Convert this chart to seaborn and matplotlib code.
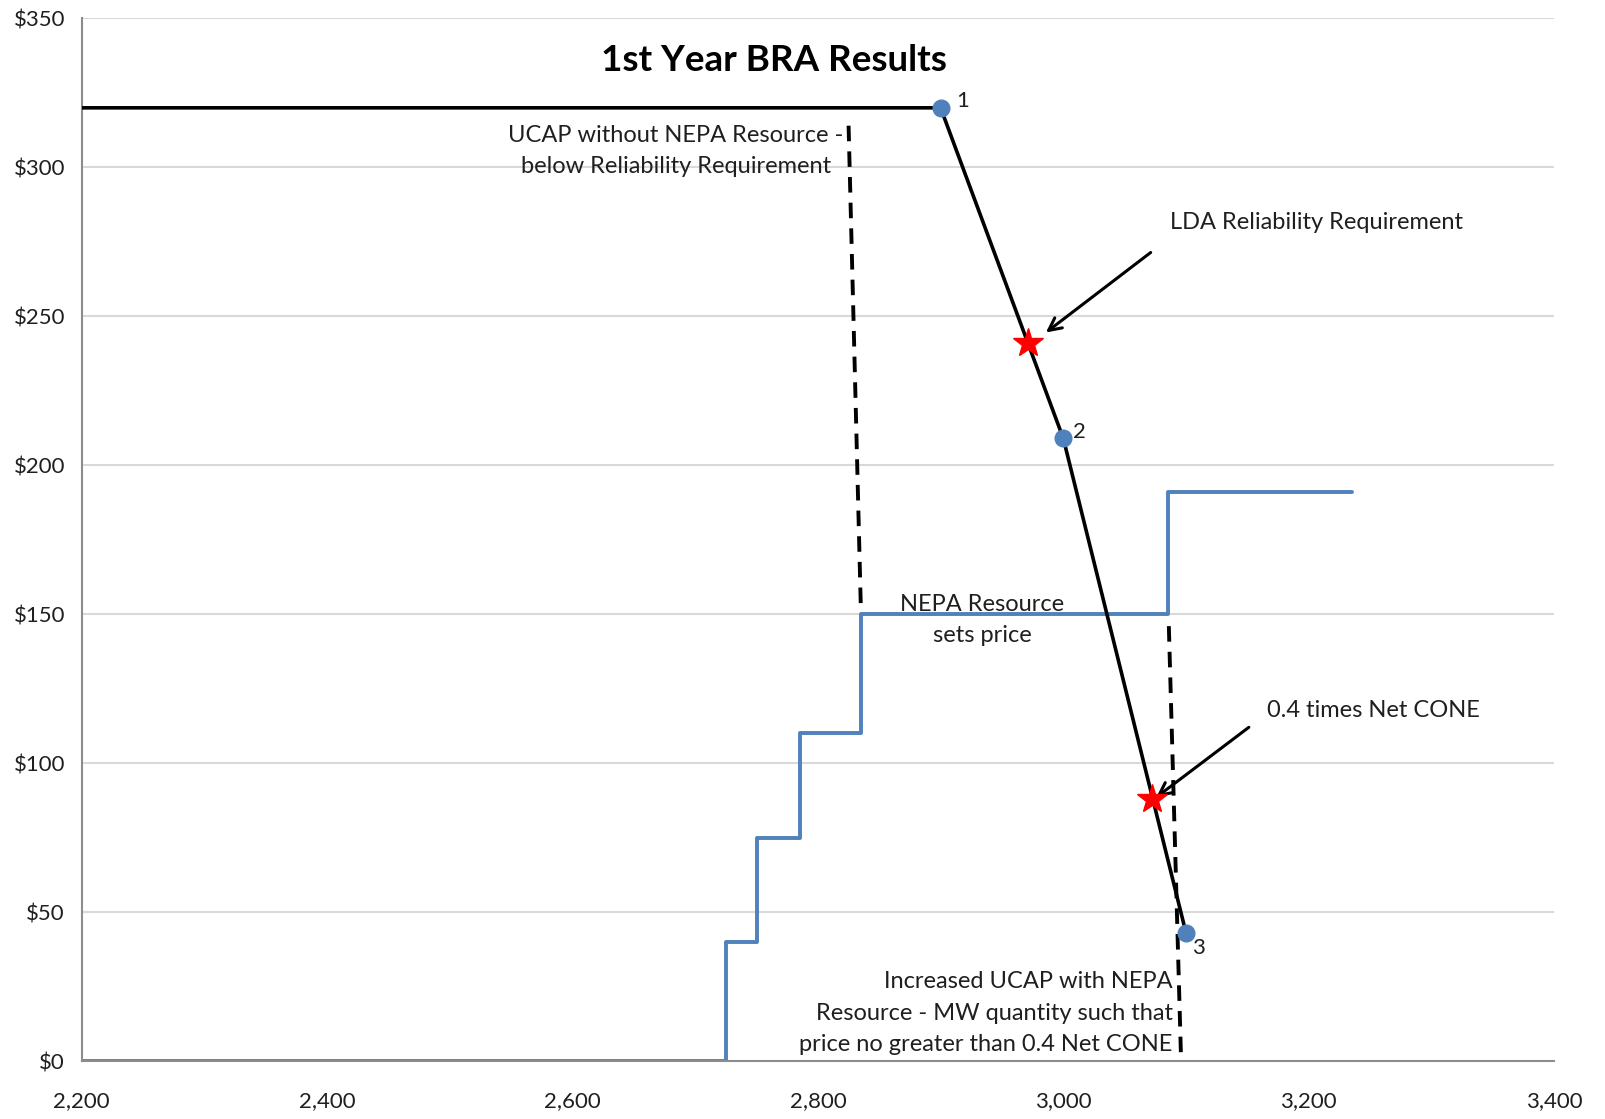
import matplotlib
matplotlib.use("Agg")
import matplotlib.pyplot as plt
import numpy as np
import pandas as pd
import seaborn as sns

# supply curve (blue steps): MW and $/MW-day
supply_mw = [2200, 2725, 2750, 2785, 2835, 3085, 3235]
supply_price = [0, 40, 75, 110, 150, 191, 191]

# VRR demand curve (black)
demand_mw = [2200, 2900, 3000, 3100]
demand_price = [320, 320, 209, 43]

# labelled VRR points
point_mw = [2900, 3000, 3100]
point_price = [320, 209, 43]
point_labels = ["1", "2", "3"]
label_offsets = [(11, 5), (7, 5), (4, -11)]

# red stars
star_mw = [2971, 3072]
star_price = [241, 88]
star_names = ["LDA Reliability Requirement", "0.4 times Net CONE"]

# dashed guides (UCAP without / with NEPA resource)
ucap_without_mw = [2825, 2835]
ucap_without_price = [314, 152]
ucap_with_mw = [3086, 3096]
ucap_with_price = [146, 0]

x_ticks = [2200, 2400, 2600, 2800, 3000, 3200, 3400]
y_ticks = [0, 50, 100, 150, 200, 250, 300, 350]

sns.set_style("white")
plt.rcParams["font.family"] = ["Lato", "DejaVu Sans"]

fig = plt.figure(figsize=(16.05, 11.19), dpi=100)
ax = fig.add_axes([0.0509, 0.0518, 0.9174, 0.9317])

blue = "#4f81bd"
txt = "#1f1f1f"
fs = 17
ls = 1.62

supply = pd.DataFrame({"mw": supply_mw, "price": supply_price})
sns.lineplot(data=supply, x="mw", y="price", ax=ax, color=blue, lw=2.8,
             drawstyle="steps-post", estimator=None)

demand = pd.DataFrame({"mw": demand_mw, "price": demand_price})
sns.lineplot(data=demand, x="mw", y="price", ax=ax, color="black", lw=2.6,
             estimator=None, zorder=3)

dash = (0, (4, 2.6))
ax.plot(ucap_without_mw, ucap_without_price, color="black", lw=2.8, linestyle=dash, zorder=3)
ax.plot(ucap_with_mw, ucap_with_price, color="black", lw=2.8, linestyle=dash, zorder=3)

ax.plot(point_mw, point_price, linestyle="none", marker="o", markersize=12,
        color=blue, zorder=5)
ax.plot(star_mw, star_price, linestyle="none", marker="*", markersize=22,
        color="red", zorder=6)

for mw, pr, lab, off in zip(point_mw, point_price, point_labels, label_offsets):
    ax.annotate(lab, xy=(mw, pr), xytext=off, textcoords="offset points",
                ha="left", va="center", fontsize=16, color=txt, zorder=7)

# annotations
ax.text(2684, 305.5, "UCAP without NEPA Resource -\nbelow Reliability Requirement",
        ha="center", va="center", fontsize=fs, color=txt, linespacing=ls)
ax.text(3087, 281.5, star_names[0], ha="left", va="center", fontsize=fs, color=txt)
ax.text(2934, 148, "NEPA Resource\nsets price", ha="center", va="center",
        fontsize=fs, color=txt, linespacing=ls)
ax.text(3166, 117.6, star_names[1], ha="left", va="center", fontsize=fs, color=txt)
ax.text(3089, 16, "Increased UCAP with NEPA\nResource - MW quantity such that\nprice no greater than 0.4 Net CONE",
        ha="right", va="center", multialignment="right", fontsize=fs, color=txt,
        linespacing=ls)

arrow = dict(arrowstyle="->,head_length=0.9,head_width=0.45", color="black", lw=2.2)
ax.annotate("", xy=(star_mw[0] + 13, star_price[0] + 3), xytext=(3073, 272), arrowprops=arrow)
ax.annotate("", xy=(star_mw[1] + 2, star_price[1]), xytext=(3153, 112.6), arrowprops=arrow)

fig.text(0.482, 0.946, "1st Year BRA Results", ha="center", va="center",
         fontsize=26.5, fontweight="bold", color="black")

ax.set_xlim(2200, 3400)
ax.set_ylim(0, 350)
ax.set_xticks(x_ticks)
ax.set_xticklabels([f"{v:,}" for v in x_ticks])
ax.set_yticks(y_ticks)
ax.set_yticklabels([f"${v}" for v in y_ticks])
ax.set_xlabel("")
ax.set_ylabel("")

ax.yaxis.grid(True, color="#d9d9d9", lw=1.5)
ax.xaxis.grid(False)
ax.set_axisbelow(True)
for side in ["top", "right"]:
    ax.spines[side].set_visible(False)
for side in ["left", "bottom"]:
    ax.spines[side].set_color("#8c8c8c")
    ax.spines[side].set_linewidth(1.5)
ax.tick_params(axis="both", which="major", direction="out", length=6, width=1.5,
               color="#8c8c8c", labelsize=16, labelcolor=txt)
ax.tick_params(axis="x", pad=16)
ax.tick_params(axis="y", pad=6)

fig.savefig("out.png", dpi=100)
plt.close(fig)
